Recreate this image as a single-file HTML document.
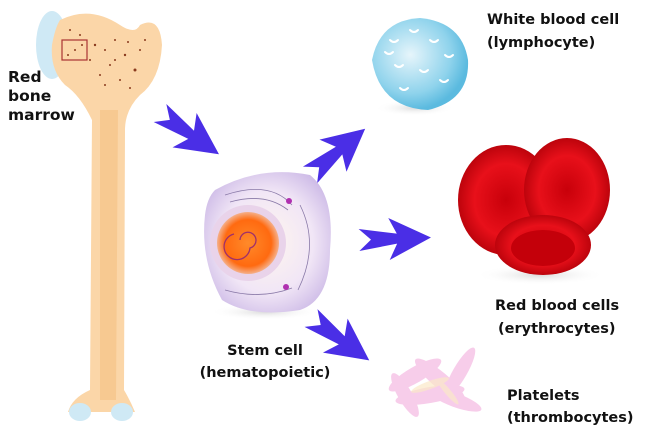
<!DOCTYPE html>
<html><head><style>
html,body{margin:0;padding:0;background:#fff;}
svg{display:block;}
text{font-family:"DejaVu Sans","Liberation Sans",sans-serif;font-weight:bold;fill:#111;font-size:14.5px;}
</style></head><body>
<svg width="660" height="434" viewBox="0 0 660 434" xmlns="http://www.w3.org/2000/svg">
<defs>
<radialGradient id="wbc" cx="0.4" cy="0.4" r="0.6"><stop offset="0" stop-color="#e6f5fb"/><stop offset="0.7" stop-color="#8fd3ec"/><stop offset="1" stop-color="#5bbadf"/></radialGradient>
<radialGradient id="rbc" cx="0.5" cy="0.5" r="0.55"><stop offset="0" stop-color="#c8000a"/><stop offset="0.6" stop-color="#e8101a"/><stop offset="1" stop-color="#b00008"/></radialGradient>
<radialGradient id="stem" cx="0.5" cy="0.5" r="0.6"><stop offset="0" stop-color="#fff6ee"/><stop offset="0.6" stop-color="#f1e6f6"/><stop offset="1" stop-color="#cbb8e6"/></radialGradient>
<radialGradient id="nuc" cx="0.5" cy="0.5" r="0.5"><stop offset="0" stop-color="#ff8a2a"/><stop offset="0.75" stop-color="#ff6a10"/><stop offset="1" stop-color="#f5b08a"/></radialGradient>
<radialGradient id="sh" cx="0.5" cy="0.5" r="0.5"><stop offset="0" stop-color="#ccc" stop-opacity="0.7"/><stop offset="1" stop-color="#fff" stop-opacity="0"/></radialGradient>
<path id="arr" d="M0,-11 L38,-5 L30,-21 L72,0 L30,21 L38,5 L0,11 L12,0Z" fill="#4a2ee6"/>
</defs>
<!-- bone -->
<ellipse cx="52" cy="45" rx="16" ry="34" fill="#cfe9f5"/>
<path d="M60 20 Q90 5 120 25 Q135 35 140 25 Q160 15 162 45 Q160 80 140 95 Q125 110 125 130 L124 390 Q130 400 135 412 L68 412 Q72 398 90 390 L92 120 Q80 95 65 85 Q50 70 52 45 Q55 28 60 20Z" fill="#fbd6a8"/>
<path d="M100 110 L118 110 L116 400 L100 400Z" fill="#f7c991"/>
<rect x="62" y="40" width="25" height="20" fill="none" stroke="#a33" stroke-width="1.2"/>
<g fill="#8a3a1e">
<circle cx="70" cy="30" r="1"/><circle cx="80" cy="35" r="1"/><circle cx="95" cy="45" r="1.2"/><circle cx="105" cy="50" r="1"/><circle cx="115" cy="40" r="1"/><circle cx="125" cy="55" r="1.2"/><circle cx="140" cy="50" r="1"/><circle cx="135" cy="70" r="1.5"/><circle cx="110" cy="65" r="1"/><circle cx="100" cy="75" r="1"/><circle cx="120" cy="80" r="1"/><circle cx="130" cy="88" r="1"/><circle cx="75" cy="50" r="1"/><circle cx="68" cy="55" r="1"/><circle cx="82" cy="45" r="1"/><circle cx="145" cy="40" r="1"/><circle cx="115" cy="60" r="1"/><circle cx="105" cy="85" r="1"/><circle cx="90" cy="60" r="1"/><circle cx="128" cy="42" r="1"/>
</g>
<ellipse cx="80" cy="412" rx="11" ry="9" fill="#cfe9f5"/><ellipse cx="122" cy="412" rx="11" ry="9" fill="#cfe9f5"/>
<!-- arrows -->
<use href="#arr" transform="translate(160,113) rotate(35)"/>
<use href="#arr" transform="translate(310,175) rotate(-40)"/>
<use href="#arr" transform="translate(359,240) rotate(-2)"/>
<use href="#arr" transform="translate(311,318) rotate(36)"/>
<!-- white blood cell -->
<ellipse cx="415" cy="108" rx="40" ry="8" fill="url(#sh)"/>
<path d="M372 60 Q380 20 420 18 Q462 22 468 60 Q470 100 428 110 Q380 108 372 60Z" fill="url(#wbc)"/>
<g stroke="#ffffff" stroke-width="2" fill="none" stroke-linecap="round">
<path d="M390 40 q4 4 8 0"/><path d="M410 30 q4 4 8 0"/><path d="M430 40 q4 4 8 0"/><path d="M445 55 q4 4 8 0"/><path d="M395 65 q4 4 8 0"/><path d="M420 70 q4 4 8 0"/><path d="M440 80 q4 4 8 0"/><path d="M400 88 q4 4 8 0"/><path d="M385 52 q4 4 8 0"/>
</g>
<!-- rbc -->
<ellipse cx="540" cy="275" rx="65" ry="10" fill="url(#sh)"/>
<ellipse cx="506" cy="200" rx="48" ry="55" fill="url(#rbc)"/>
<ellipse cx="567" cy="190" rx="43" ry="52" fill="url(#rbc)"/>
<ellipse cx="543" cy="245" rx="48" ry="30" fill="url(#rbc)"/>
<ellipse cx="543" cy="248" rx="32" ry="18" fill="#c4000a"/>
<!-- stem cell -->
<ellipse cx="265" cy="312" rx="55" ry="8" fill="url(#sh)"/>
<path d="M215 190 Q260 165 310 175 Q335 195 330 250 Q330 300 300 310 Q250 318 222 300 Q200 260 205 215 Q207 198 215 190Z" fill="url(#stem)"/>
<circle cx="248" cy="243" r="38" fill="#e9d3ea"/>
<circle cx="248" cy="243" r="31" fill="url(#nuc)"/>
<g stroke="#a0306a" stroke-width="1.3" fill="none"><path d="M240 240 a8 8 0 1 1 10 8 a13 13 0 1 1 -16 -14"/></g>
<g stroke="#8a7aa8" stroke-width="0.8" fill="none"><path d="M225 195 Q270 180 292 205"/><path d="M230 202 Q265 192 288 210"/><path d="M300 205 Q320 245 298 290"/><path d="M225 290 Q260 300 292 288"/></g>
<circle cx="289" cy="201" r="3" fill="#b030b0"/><circle cx="286" cy="287" r="3" fill="#b030b0"/>
<!-- platelets -->
<g fill="#f7c8e8" opacity="0.9">
<ellipse cx="415" cy="375" rx="30" ry="8" transform="rotate(-30 415 375)"/>
<ellipse cx="440" cy="380" rx="32" ry="8" transform="rotate(40 440 380)"/>
<ellipse cx="430" cy="395" rx="35" ry="8" transform="rotate(-10 430 395)"/>
<ellipse cx="460" cy="372" rx="28" ry="7" transform="rotate(-60 460 372)"/>
<ellipse cx="405" cy="395" rx="25" ry="7" transform="rotate(60 405 395)"/>
<ellipse cx="455" cy="400" rx="28" ry="7" transform="rotate(20 455 400)"/>
</g>
<g fill="#fbe9c8" opacity="0.7"><ellipse cx="430" cy="385" rx="20" ry="4" transform="rotate(-20 430 385)"/><ellipse cx="448" cy="392" rx="16" ry="3" transform="rotate(50 448 392)"/></g>
<!-- labels -->
<text x="8" y="82" style="font-size:15.5px">Red</text><text x="8" y="101" style="font-size:15.5px">bone</text><text x="8" y="120" style="font-size:15.5px">marrow</text>
<text x="487" y="24">White blood cell</text><text x="487" y="47">(lymphocyte)</text>
<text x="495" y="310">Red blood cells</text><text x="498" y="333">(erythrocytes)</text>
<text x="265" y="355" text-anchor="middle">Stem cell</text><text x="265" y="377" text-anchor="middle">(hematopoietic)</text>
<text x="507" y="400">Platelets</text><text x="507" y="422">(thrombocytes)</text>
</svg>
</body></html>
